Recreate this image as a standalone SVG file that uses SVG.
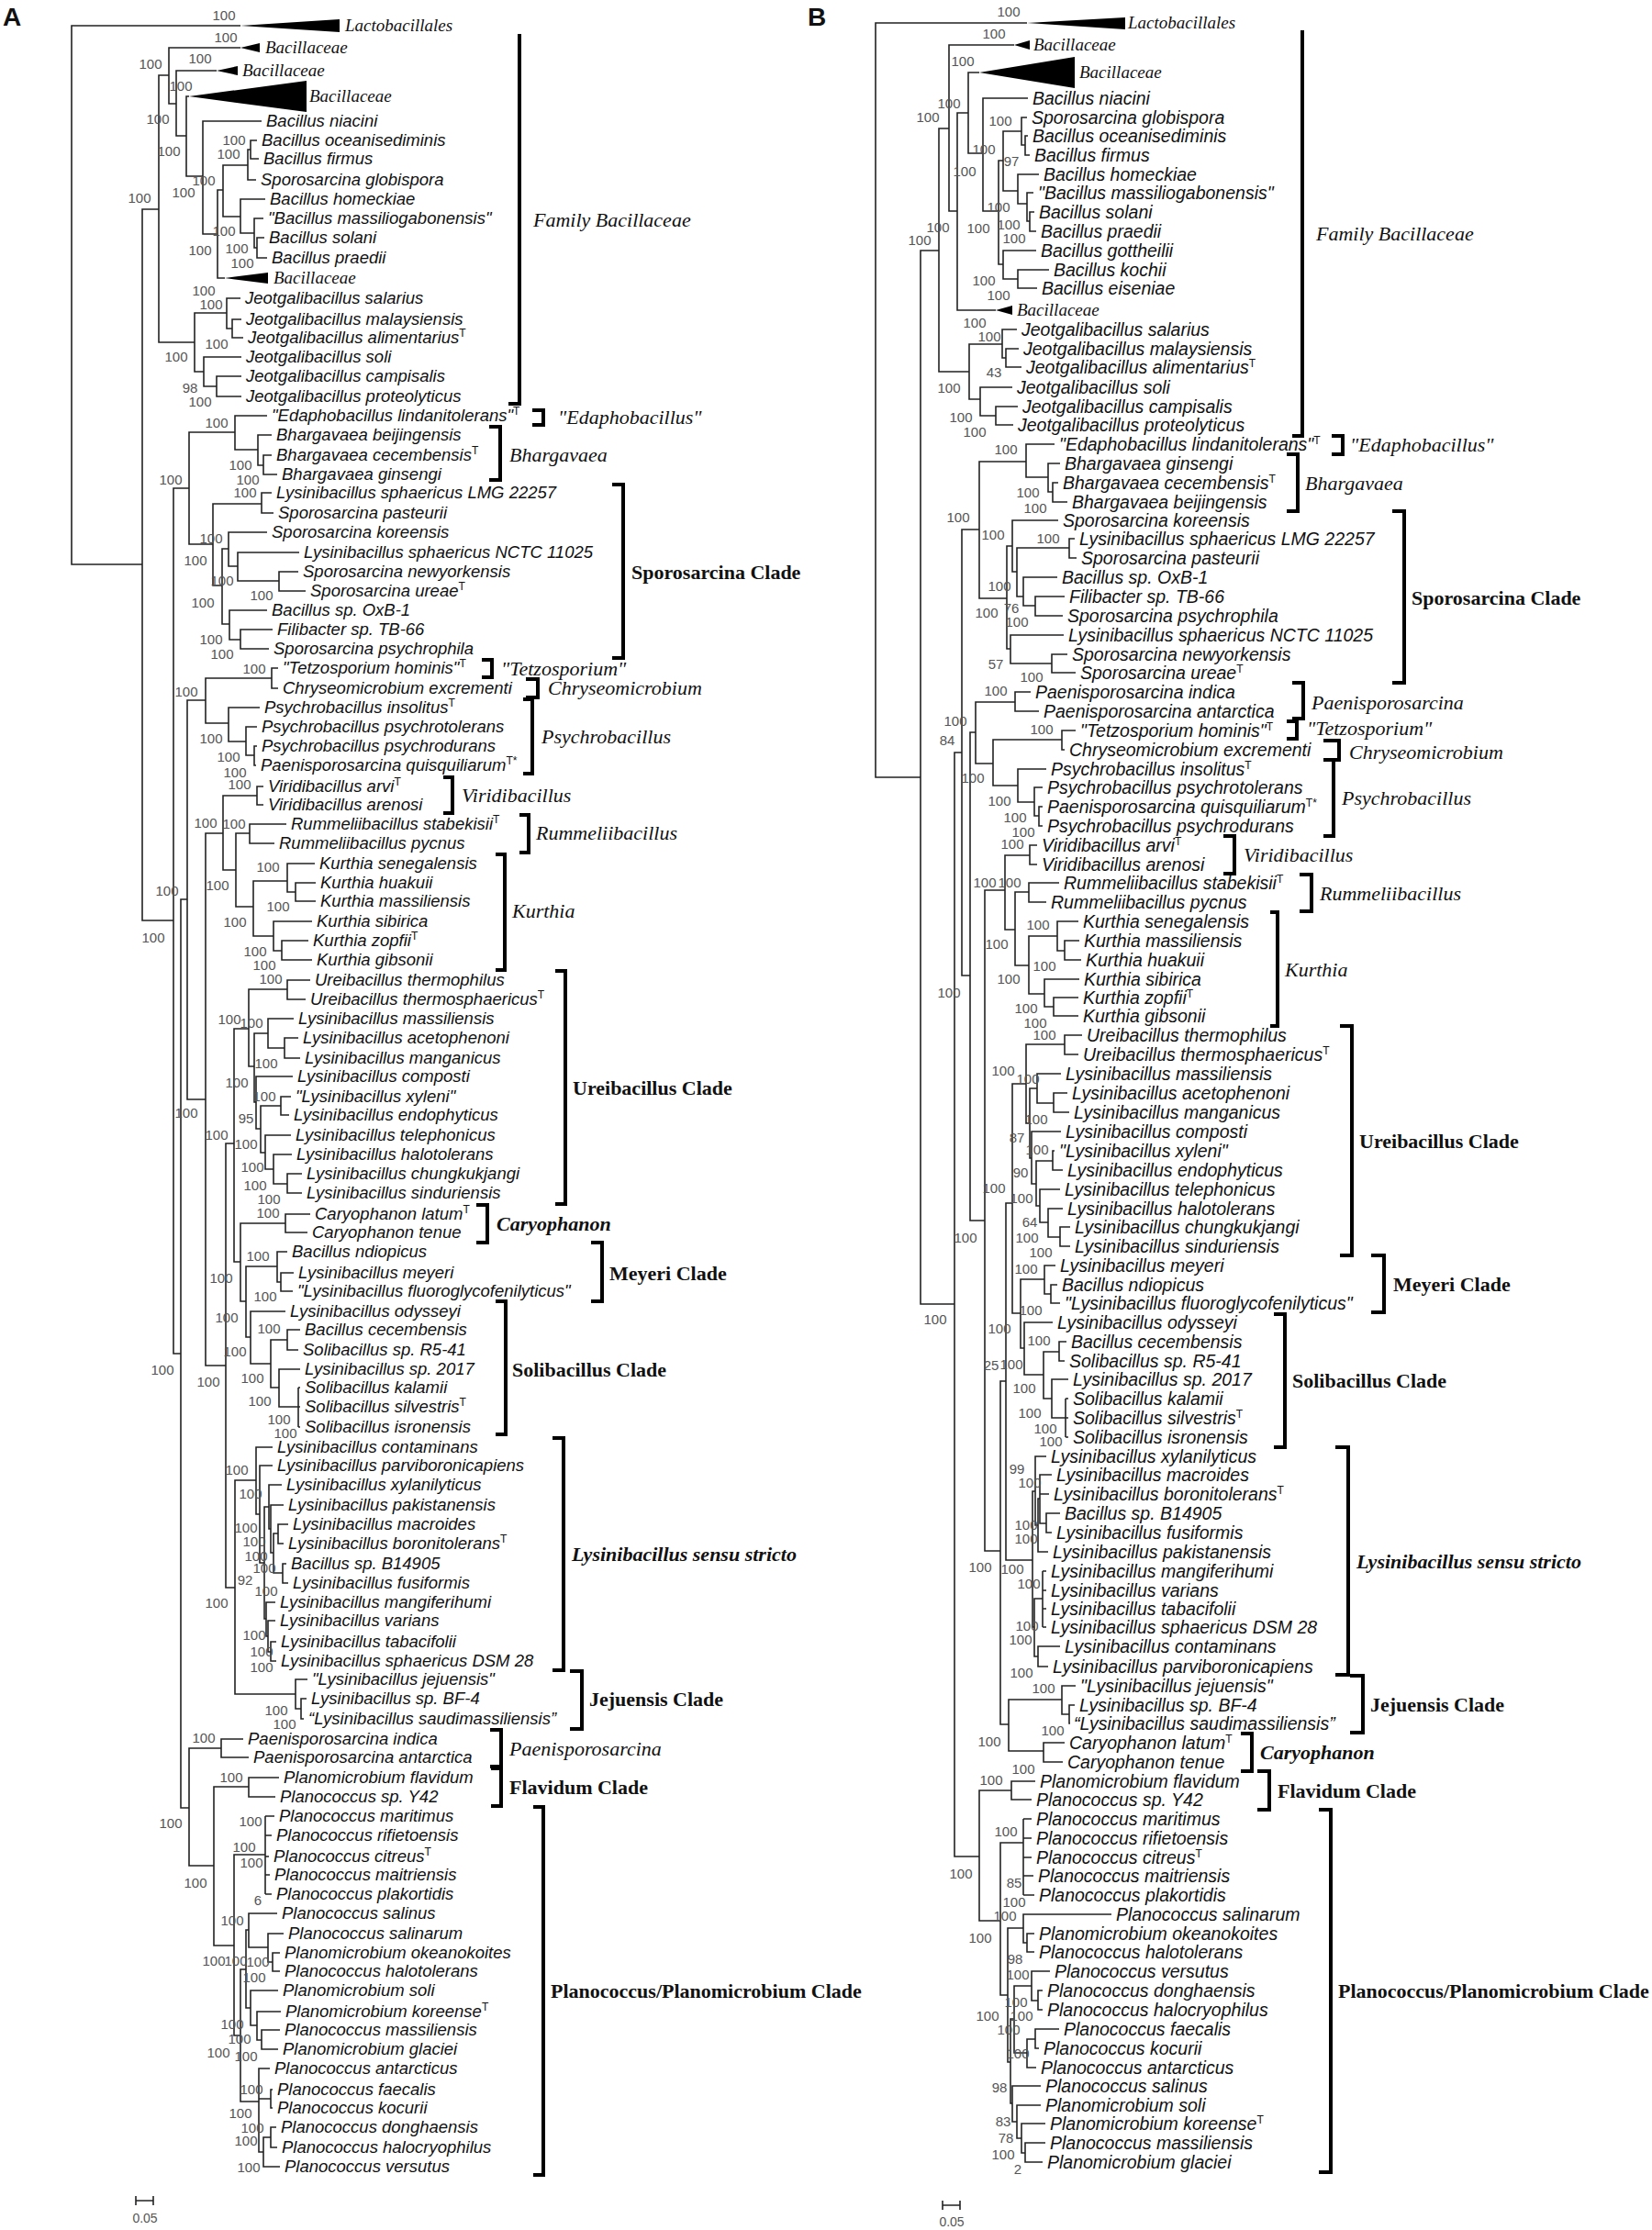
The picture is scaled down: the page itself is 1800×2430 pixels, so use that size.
<svg xmlns="http://www.w3.org/2000/svg" width="1800" height="2430" viewBox="0 0 1800 2430">
<style>
.ln{fill:none;stroke:#222;stroke-width:1.6}
.br{fill:none;stroke:#000;stroke-width:4}
.tri{fill:#000}
.la{font-family:"Liberation Sans",Arial,sans-serif;font-style:italic;font-size:18.5px;fill:#111}
.lb{font-family:"Liberation Sans",Arial,sans-serif;font-style:italic;font-size:19.5px;fill:#111}
.sup{font-size:12px;font-style:normal}
.bs{font-family:"Liberation Sans",Arial,sans-serif;font-size:15px;fill:#555;text-anchor:middle}
.grp{font-family:"Liberation Serif","Times New Roman",serif;font-style:italic;font-size:19px;fill:#111}
.ci{font-family:"Liberation Serif","Times New Roman",serif;font-style:italic;font-size:22px;fill:#111}
.cb{font-family:"Liberation Serif","Times New Roman",serif;font-weight:bold;font-size:22px;fill:#111}
.cbi{font-family:"Liberation Serif","Times New Roman",serif;font-weight:bold;font-style:italic;font-size:22px;fill:#111}
.pl{font-family:"Liberation Sans",Arial,sans-serif;font-weight:bold;font-size:28px;fill:#111}
.sc{font-family:"Liberation Sans",Arial,sans-serif;font-size:14px;fill:#555;text-anchor:middle}
</style>
<rect width="1800" height="2430" fill="#fff"/>
<text class="pl" x="3" y="28">A</text>
<text class="pl" x="880" y="28">B</text>

<!-- ===================== TREE A ===================== -->
<g id="A-connectors" class="ln">
<path d="M262,28 H78 V615 H155 M173,228 H155 V1003 H189 M184,82 H173 V373 H212 M262,52 H184 V113 H192 M236,77 H192 V148 H203 M206,105 H203 V192 H221 M285,132 H221 V255 H237 M243,207 H237 V303 H245 M270,180 H243 V236 H262 M273,163 H270 V196 H279 M280,153 H273 V173 H282 M289,217 H262 V254 H277 M287,238 H277 V270 H280 M288,259 H280 V281 H291"/>
<path d="M247,341 H212 V405 H222 M262,325 H247 V358 H253 M263,348 H253 V368 H265 M263,389 H222 V421 H236 M263,410 H236 V432 H263"/>
<path d="M206,532 H189 V1475 H197 M256,471 H206 V593 H232 M291,453 H256 V490 H281 M296,474 H281 V507 H287 M296,496 H287 V517 H302 M285,549 H232 V638 H242 M296,537 H285 V559 H298 M249,598 H242 V680 H250 M291,580 H249 V617 H259 M326,602 H259 V633 H304 M325,623 H304 V644 H333 M291,665 H250 V697 H262 M297,686 H262 V707 H293"/>
<path d="M204,980 H197 V1970 H206 M224,763 H204 V1198 H224 M296,739 H224 V788 H249 M303,728 H296 V750 H303 M283,771 H249 V808 H268 M280,792 H268 V823 H277 M280,813 H277 V834 H279"/>
<path d="M243,908 H224 V1488 H246 M280,867 H243 V948 H257 M287,857 H280 V877 H287 M272,908 H257 V988 H276 M312,898 H272 V919 H299 M313,960 H276 V1020 H298 M343,941 H313 V972 H322 M344,962 H322 V982 H344 M340,1004 H298 V1036 H307 M336,1025 H307 V1046 H340"/>
<path d="M255,1246 H246 V1730 H256 M271,1121 H255 V1375 H262 M313,1078 H271 V1162 H277 M338,1068 H313 V1089 H333 M292,1126 H277 V1201 H279 M320,1110 H292 V1142 H310 M325,1131 H310 V1153 H327 M319,1173 H279 V1230 H284 M306,1205 H284 V1256 H289 M317,1195 H306 V1215 H315 M317,1237 H289 V1274 H298 M318,1258 H298 V1290 H313 M329,1279 H313 V1300 H329"/>
<path d="M311,1333 H262 V1418 H268 M338,1323 H311 V1343 H335 M302,1380 H268 V1457 H273 M313,1364 H302 V1397 H306 M320,1387 H306 V1407 H319 M311,1429 H273 V1486 H295 M313,1460 H295 V1512 H304 M327,1449 H313 V1471 H325 M327,1492 H304 V1533 H325 M325,1512 V1555 M325,1512 H327 M325,1533 H327 M325,1555 H327"/>
<path d="M279,1613 H256 V1846 H322 M297,1577 H279 V1650 H283 M297,1597 H283 V1703 H288 M293,1642 H288 V1764 H290 M307,1618 H293 V1666 H295 M309,1640 H295 V1692 H298 M303,1671 H298 V1714 H308 M314,1661 H303 V1682 H309 M312,1704 H308 V1725 H314 M300,1746 H290 V1783 H292 M300,1766 H292 V1800 H295 M301,1789 H295 V1810 H301 M335,1830 H322 V1862 H328 M334,1851 H328 V1873 H331"/>
<path d="M241,1905 H206 V2033 H233 M265,1895 H241 V1915 H271 M271,1947 H233 V2120 H255 M304,1937 H271 V1958 H300 M289,2021 H255 V2218 H262 M289,1979 V2064 M289,1979 H299 M289,2000 H296 M289,2023 H293 M289,2043 H294 M289,2064 H296"/>
<path d="M268,2146 H262 V2290 H282 M271,2103 H268 V2188 H273 M302,2085 H271 V2122 H292 M309,2107 H292 V2138 H297 M305,2128 H297 V2148 H305 M303,2169 H273 V2207 H280 M306,2192 H280 V2223 H285 M305,2212 H285 V2233 H303 M294,2254 H282 V2345 H287 M282,2287 H295 M297,2277 H295 V2297 H297 M295,2329 H287 V2361 H305 M301,2318 H295 V2340 H302"/>
<path d="M148,2398 H167 M148,2393 V2403 M167,2393 V2403"/>
</g>
<g id="A-collapsed" class="tri">
<polygon points="262,28 370,21 370,35"/>
<polygon points="262,52 283,47 283,57"/>
<polygon points="236,77 259,72 259,82"/>
<polygon points="206,105 334,88 334,122"/>
<polygon points="245,303 292,297 292,309"/>
</g>
<text class="sc" x="158" y="2422">0.05</text>

<g id="A-leaves" class="la">
<text class="grp" x="376" y="34">Lactobacillales</text>
<text class="grp" x="289" y="58">Bacillaceae</text>
<text class="grp" x="264" y="83">Bacillaceae</text>
<text class="grp" x="337" y="111">Bacillaceae</text>
<text x="290" y="138">Bacillus niacini</text>
<text x="285" y="159">Bacillus oceanisediminis</text>
<text x="287" y="179">Bacillus firmus</text>
<text x="284" y="202">Sporosarcina globispora</text>
<text x="294" y="223">Bacillus homeckiae</text>
<text x="292" y="244">"Bacillus massiliogabonensis"</text>
<text x="293" y="265">Bacillus solani</text>
<text x="296" y="287">Bacillus praedii</text>
<text class="grp" x="298" y="309">Bacillaceae</text>
<text x="267" y="331">Jeotgalibacillus salarius</text>
<text x="268" y="354">Jeotgalibacillus malaysiensis</text>
<text x="270" y="374">Jeotgalibacillus alimentarius<tspan class="sup" dy="-7">T</tspan></text>
<text x="268" y="395">Jeotgalibacillus soli</text>
<text x="268" y="416">Jeotgalibacillus campisalis</text>
<text x="268" y="438">Jeotgalibacillus proteolyticus</text>
<text x="296" y="459">"Edaphobacillus lindanitolerans"<tspan class="sup" dy="-7">T</tspan></text>
<text x="301" y="480">Bhargavaea beijingensis</text>
<text x="301" y="502">Bhargavaea cecembensis<tspan class="sup" dy="-7">T</tspan></text>
<text x="307" y="523">Bhargavaea ginsengi</text>
<text x="301" y="543">Lysinibacillus sphaericus LMG 22257</text>
<text x="303" y="565">Sporosarcina pasteurii</text>
<text x="296" y="586">Sporosarcina koreensis</text>
<text x="331" y="608">Lysinibacillus sphaericus NCTC 11025</text>
<text x="330" y="629">Sporosarcina newyorkensis</text>
<text x="338" y="650">Sporosarcina ureae<tspan class="sup" dy="-7">T</tspan></text>
<text x="296" y="671">Bacillus sp. OxB-1</text>
<text x="302" y="692">Filibacter sp. TB-66</text>
<text x="298" y="713">Sporosarcina psychrophila</text>
<text x="308" y="734">"Tetzosporium hominis"<tspan class="sup" dy="-7">T</tspan></text>
<text x="308" y="756">Chryseomicrobium excrementi</text>
<text x="288" y="777">Psychrobacillus insolitus<tspan class="sup" dy="-7">T</tspan></text>
<text x="285" y="798">Psychrobacillus psychrotolerans</text>
<text x="285" y="819">Psychrobacillus psychrodurans</text>
<text x="284" y="840">Paenisporosarcina quisquiliarum<tspan class="sup" dy="-7">T*</tspan></text>
<text x="292" y="863">Viridibacillus arvi<tspan class="sup" dy="-7">T</tspan></text>
<text x="292" y="883">Viridibacillus arenosi</text>
<text x="317" y="904">Rummeliibacillus stabekisii<tspan class="sup" dy="-7">T</tspan></text>
<text x="304" y="925">Rummeliibacillus pycnus</text>
<text x="348" y="947">Kurthia senegalensis</text>
<text x="349" y="968">Kurthia huakuii</text>
<text x="349" y="988">Kurthia massiliensis</text>
<text x="345" y="1010">Kurthia sibirica</text>
<text x="341" y="1031">Kurthia zopfii<tspan class="sup" dy="-7">T</tspan></text>
<text x="345" y="1052">Kurthia gibsonii</text>
<text x="343" y="1074">Ureibacillus thermophilus</text>
<text x="338" y="1095">Ureibacillus thermosphaericus<tspan class="sup" dy="-7">T</tspan></text>
<text x="325" y="1116">Lysinibacillus massiliensis</text>
<text x="330" y="1137">Lysinibacillus acetophenoni</text>
<text x="332" y="1159">Lysinibacillus manganicus</text>
<text x="324" y="1179">Lysinibacillus composti</text>
<text x="322" y="1201">"Lysinibacillus xyleni"</text>
<text x="320" y="1221">Lysinibacillus endophyticus</text>
<text x="322" y="1243">Lysinibacillus telephonicus</text>
<text x="323" y="1264">Lysinibacillus halotolerans</text>
<text x="334" y="1285">Lysinibacillus chungkukjangi</text>
<text x="334" y="1306">Lysinibacillus sinduriensis</text>
<text x="343" y="1329">Caryophanon latum<tspan class="sup" dy="-7">T</tspan></text>
<text x="340" y="1349">Caryophanon tenue</text>
<text x="318" y="1370">Bacillus ndiopicus</text>
<text x="325" y="1393">Lysinibacillus meyeri</text>
<text x="324" y="1413">"Lysinibacillus fluoroglycofenilyticus"</text>
<text x="316" y="1435">Lysinibacillus odysseyi</text>
<text x="332" y="1455">Bacillus cecembensis</text>
<text x="330" y="1477">Solibacillus sp. R5-41</text>
<text x="332" y="1498">Lysinibacillus sp. 2017</text>
<text x="332" y="1518">Solibacillus kalamii</text>
<text x="332" y="1539">Solibacillus silvestris<tspan class="sup" dy="-7">T</tspan></text>
<text x="332" y="1561">Solibacillus isronensis</text>
<text x="302" y="1583">Lysinibacillus contaminans</text>
<text x="302" y="1603">Lysinibacillus parviboronicapiens</text>
<text x="312" y="1624">Lysinibacillus xylanilyticus</text>
<text x="314" y="1646">Lysinibacillus pakistanensis</text>
<text x="319" y="1667">Lysinibacillus macroides</text>
<text x="314" y="1688">Lysinibacillus boronitolerans<tspan class="sup" dy="-7">T</tspan></text>
<text x="317" y="1710">Bacillus sp. B14905</text>
<text x="319" y="1731">Lysinibacillus fusiformis</text>
<text x="305" y="1752">Lysinibacillus mangiferihumi</text>
<text x="305" y="1772">Lysinibacillus varians</text>
<text x="306" y="1795">Lysinibacillus tabacifolii</text>
<text x="306" y="1816">Lysinibacillus sphaericus DSM 28</text>
<text x="340" y="1836">"Lysinibacillus jejuensis"</text>
<text x="339" y="1857">Lysinibacillus sp. BF-4</text>
<text x="336" y="1879">“Lysinibacillus saudimassiliensis”</text>
<text x="270" y="1901">Paenisporosarcina indica</text>
<text x="276" y="1921">Paenisporosarcina antarctica</text>
<text x="309" y="1943">Planomicrobium flavidum</text>
<text x="305" y="1964">Planococcus sp. Y42</text>
<text x="304" y="1985">Planococcus maritimus</text>
<text x="301" y="2006">Planococcus rifietoensis</text>
<text x="298" y="2029">Planococcus citreus<tspan class="sup" dy="-7">T</tspan></text>
<text x="299" y="2049">Planococcus maitriensis</text>
<text x="301" y="2070">Planococcus plakortidis</text>
<text x="307" y="2091">Planococcus salinus</text>
<text x="314" y="2113">Planococcus salinarum</text>
<text x="310" y="2134">Planomicrobium okeanokoites</text>
<text x="310" y="2154">Planococcus halotolerans</text>
<text x="308" y="2175">Planomicrobium soli</text>
<text x="311" y="2198">Planomicrobium koreense<tspan class="sup" dy="-7">T</tspan></text>
<text x="310" y="2218">Planococcus massiliensis</text>
<text x="308" y="2239">Planomicrobium glaciei</text>
<text x="299" y="2260">Planococcus antarcticus</text>
<text x="302" y="2283">Planococcus faecalis</text>
<text x="302" y="2303">Planococcus kocurii</text>
<text x="306" y="2324">Planococcus donghaensis</text>
<text x="307" y="2346">Planococcus halocryophilus</text>
<text x="310" y="2367">Planococcus versutus</text>
</g>

<g id="A-support" class="bs">
<text x="244" y="22">100</text><text x="246" y="46">100</text><text x="164" y="75">100</text><text x="218" y="69">100</text><text x="197" y="99">100</text><text x="172" y="135">100</text><text x="255" y="158">100</text><text x="249" y="173">100</text><text x="184" y="170">100</text><text x="222" y="202">100</text><text x="200" y="215">100</text><text x="152" y="221">100</text><text x="244" y="257">100</text><text x="218" y="278">100</text><text x="258" y="276">100</text><text x="264" y="292">100</text><text x="222" y="322">100</text><text x="230" y="337">100</text><text x="236" y="380">100</text><text x="192" y="394">100</text>
<text x="207" y="428">98</text><text x="218" y="443">100</text><text x="236" y="466">100</text><text x="262" y="512">100</text><text x="270" y="528">100</text><text x="186" y="528">100</text><text x="267" y="542">100</text><text x="230" y="592">100</text><text x="213" y="616">100</text><text x="242" y="638">100</text><text x="285" y="654">100</text><text x="221" y="662">100</text><text x="230" y="702">100</text><text x="242" y="718">100</text><text x="277" y="734">100</text><text x="203" y="759">100</text><text x="230" y="810">100</text>
<text x="249" y="830">100</text><text x="256" y="847">100</text><text x="261" y="860">100</text><text x="224" y="902">100</text><text x="255" y="903">100</text><text x="237" y="970">100</text><text x="182" y="976">100</text><text x="292" y="950">100</text><text x="303" y="993">100</text><text x="256" y="1010">100</text><text x="167" y="1027">100</text><text x="278" y="1042">100</text><text x="288" y="1057">100</text><text x="295" y="1072">100</text><text x="250" y="1116">100</text><text x="274" y="1120">100</text><text x="290" y="1164">100</text><text x="258" y="1185">100</text><text x="288" y="1200">100</text>
<text x="203" y="1218">100</text><text x="268" y="1224">95</text><text x="236" y="1242">100</text><text x="268" y="1252">100</text><text x="275" y="1277">100</text><text x="278" y="1297">100</text><text x="293" y="1312">100</text><text x="292" y="1327">100</text><text x="281" y="1374">100</text><text x="241" y="1398">100</text><text x="289" y="1418">100</text><text x="247" y="1441">100</text><text x="293" y="1453">100</text><text x="256" y="1478">100</text><text x="177" y="1498">100</text><text x="227" y="1511">100</text><text x="275" y="1507">100</text><text x="283" y="1532">100</text><text x="304" y="1552">100</text><text x="311" y="1567">100</text><text x="258" y="1607">100</text>
<text x="273" y="1633">100</text><text x="268" y="1670">100</text><text x="277" y="1685">100</text><text x="279" y="1701">100</text><text x="267" y="1727">92</text><text x="288" y="1714">100</text><text x="290" y="1739">100</text><text x="236" y="1752">100</text><text x="277" y="1787">100</text><text x="285" y="1805">100</text><text x="285" y="1822">100</text><text x="301" y="1869">100</text><text x="310" y="1884">100</text><text x="222" y="1899">100</text><text x="252" y="1942">100</text><text x="186" y="1992">100</text><text x="273" y="1990">100</text>
<text x="266" y="2018">100</text><text x="274" y="2035">100</text><text x="213" y="2057">100</text><text x="281" y="2076">6</text><text x="253" y="2098">100</text><text x="233" y="2142">100</text><text x="257" y="2142">100</text><text x="281" y="2143">100</text><text x="277" y="2160">100</text><text x="253" y="2211">100</text><text x="261" y="2227">100</text><text x="238" y="2242">100</text><text x="268" y="2246">100</text><text x="274" y="2282">100</text><text x="262" y="2308">100</text><text x="275" y="2324">100</text><text x="268" y="2338">100</text><text x="271" y="2367">100</text>
</g>

<g id="A-clades">
<g id="A-bacillaceae"><path class="br" d="M566,37 V440 H554"/><text class="ci" x="581" y="247">Family Bacillaceae</text></g>
<g id="A-edaphobacillus"><path class="br" d="M580,447 H592 V463 H580"/><text class="ci" x="608" y="462">"Edaphobacillus"</text></g>
<g id="A-bhargavaea"><path class="br" d="M533,465 H545 V523 H533"/><text class="ci" x="555" y="503">Bhargavaea</text></g>
<g id="A-sporosarcina"><path class="br" d="M667,528 H679 V717 H667"/><text class="cb" x="688" y="631">Sporosarcina Clade</text></g>
<g id="A-tetzosporium"><path class="br" d="M525,719 H536 V738 H525"/><text class="ci" x="546" y="736">"Tetzosporium"</text></g>
<g id="A-chryseomicrobium"><path class="br" d="M573,740 H586 V760 H573"/><text class="ci" x="597" y="757">Chryseomicrobium</text></g>
<g id="A-psychrobacillus"><path class="br" d="M570,762 H580 V843 H570"/><text class="ci" x="590" y="810">Psychrobacillus</text></g>
<g id="A-viridibacillus"><path class="br" d="M483,847 H493 V886 H483"/><text class="ci" x="503" y="874">Viridibacillus</text></g>
<g id="A-rummeliibacillus"><path class="br" d="M566,888 H576 V929 H566"/><text class="ci" x="584" y="915">Rummeliibacillus</text></g>
<g id="A-kurthia"><path class="br" d="M540,931 H550 V1057 H540"/><text class="ci" x="558" y="1000">Kurthia</text></g>
<g id="A-ureibacillus"><path class="br" d="M605,1058 H616 V1312 H605"/><text class="cb" x="624" y="1193">Ureibacillus Clade</text></g>
<g id="A-caryophanon"><path class="br" d="M519,1313 H531 V1354 H519"/><text class="cbi" x="541" y="1341">Caryophanon</text></g>
<g id="A-meyeri"><path class="br" d="M644,1354 H656 V1418 H644"/><text class="cb" x="664" y="1395">Meyeri Clade</text></g>
<g id="A-solibacillus"><path class="br" d="M540,1418 H551 V1563 H540"/><text class="cb" x="558" y="1500">Solibacillus Clade</text></g>
<g id="A-lysinibacillus"><path class="br" d="M602,1567 H614 V1820 H602"/><text class="cbi" x="623" y="1701">Lysinibacillus sensu stricto</text></g>
<g id="A-jejuensis"><path class="br" d="M621,1821 H634 V1884 H621"/><text class="cb" x="642" y="1859">Jejuensis Clade</text></g>
<g id="A-paenisporosarcina"><path class="br" d="M534,1885 H546 V1925 H534"/><text class="ci" x="555" y="1913">Paenisporosarcina</text></g>
<g id="A-flavidum"><path class="br" d="M535,1927 H546 V1968 H535"/><text class="cb" x="555" y="1955">Flavidum Clade</text></g>
<g id="A-planococcus"><path class="br" d="M581,1969 H592 V2370 H581"/><text class="cb" x="600" y="2177">Planococcus/Planomicrobium Clade</text></g>
</g>

<!-- ===================== TREE B ===================== -->
<g id="B-connectors" class="ln">
<path d="M1119,25 H954 V847 H1003 M1023,273 H1003 V1421 H1040 M1034,140 H1023 V405 H1056 M1105,49 H1034 V230 H1043 M1055,123 H1043 V338 H1085 M1067,79 H1055 V167 H1071 M1120,107 H1071 V230 H1088 M1093,175 H1088 V288 H1093 M1113,143 H1093 V208 H1109 M1119,128 H1113 V158 H1117 M1120,148 H1117 V169 H1122 M1132,190 H1109 V222 H1119 M1126,210 H1119 V241 H1122 M1127,231 H1122 V252 H1129 M1129,273 H1093 V304 H1109 M1143,294 H1109 V314 H1130"/>
<path d="M1092,375 H1056 V435 H1068 M1108,359 H1092 V390 H1096 M1110,380 H1096 V400 H1113 M1103,422 H1068 V453 H1085 M1109,443 H1085 V463 H1104"/>
<path d="M1048,820 H1040 V2023 H1067 M1067,577 H1048 V1063 H1057 M1118,503 H1067 V652 H1097 M1149,484 H1118 V520 H1142 M1155,505 H1142 V536 H1147 M1153,526 H1147 V547 H1163 M1103,595 H1097 V707 H1101 M1153,567 H1103 V623 H1108 M1165,597 H1108 V650 H1115 M1171,587 H1165 V608 H1173 M1152,629 H1115 V660 H1128 M1160,650 H1128 V671 H1158 M1159,692 H1101 V723 H1146 M1163,713 H1146 V733 H1172"/>
<path d="M1063,798 H1057 V1330 H1073 M1106,765 H1063 V832 H1082 M1123,754 H1106 V775 H1132 M1157,806 H1082 V856 H1109 M1172,796 H1157 V817 H1160 M1140,838 H1109 V874 H1127 M1136,858 H1127 V889 H1132 M1136,879 H1132 V900 H1136"/>
<path d="M1095,970 H1073 V1690 H1090 M1122,932 H1095 V1013 H1106 M1130,921 H1122 V942 H1130 M1121,972 H1106 V1052 H1121 M1154,962 H1121 V983 H1140 M1152,1020 H1121 V1083 H1138 M1175,1004 H1152 V1036 H1160 M1176,1025 H1160 V1046 H1178 M1176,1067 H1138 V1097 H1148 M1175,1087 H1148 V1107 H1175"/>
<path d="M1096,1505 H1090 V1879 H1099 M1103,1311 H1096 V1700 H1125 M1118,1181 H1103 V1431 H1112 M1160,1138 H1118 V1224 H1122 M1179,1128 H1160 V1149 H1175 M1130,1186 H1122 V1262 H1124 M1156,1170 H1130 V1202 H1148 M1163,1191 H1148 V1212 H1165 M1156,1233 H1124 V1290 H1129 M1147,1265 H1129 V1314 H1133 M1149,1254 H1147 V1275 H1158 M1155,1296 H1133 V1332 H1142 M1158,1317 H1142 V1348 H1155 M1166,1337 H1155 V1358 H1166"/>
<path d="M1138,1394 H1112 V1469 H1116 M1150,1379 H1138 V1410 H1145 M1152,1400 H1145 V1420 H1155 M1147,1441 H1116 V1498 H1137 M1154,1473 H1137 V1524 H1146 M1162,1462 H1154 V1483 H1160 M1164,1503 H1146 V1545 H1161 M1161,1524 V1566 M1161,1524 H1164 M1161,1545 H1164 M1161,1566 H1164"/>
<path d="M1128,1625 H1125 V1773 H1127 M1140,1587 H1128 V1662 H1131 M1133,1633 H1131 V1691 H1142 M1146,1607 H1133 V1660 H1140 M1133,1628 H1143 M1155,1649 H1140 V1670 H1146 M1136,1742 H1127 V1805 H1131 M1136,1712 V1773 M1136,1712 H1140 M1136,1733 H1140 M1136,1753 H1140 M1136,1773 H1140 M1155,1794 H1131 V1816 H1142"/>
<path d="M1157,1852 H1099 V1908 H1137 M1172,1837 H1157 V1868 H1165 M1171,1858 H1165 V1878 H1166 M1160,1899 H1137 V1920 H1158"/>
<path d="M1102,1951 H1067 V2093 H1090 M1128,1941 H1102 V1961 H1124 M1115,2008 H1090 V2174 H1098 M1115,1982 V2065 M1115,1982 H1124 M1115,2003 H1124 M1115,2024 H1124 M1115,2044 H1126 M1115,2065 H1127 M1115,2101 H1098 V2247 H1101 M1211,2086 H1115 V2117 H1119 M1127,2107 H1119 V2127 H1127"/>
<path d="M1105,2200 H1101 V2292 H1103 M1124,2164 H1105 V2237 H1119 M1144,2148 H1124 V2180 H1131 M1136,2169 H1131 V2190 H1136 M1128,2222 H1119 V2253 H1129 M1154,2211 H1128 V2232 H1132 M1134,2273 H1103 V2312 H1108 M1134,2294 H1108 V2330 H1113 M1139,2314 H1113 V2346 H1117 M1139,2335 H1117 V2356 H1136"/>
<path d="M1027,2403 H1046 M1027,2398 V2408 M1046,2398 V2408"/>
</g>
<g id="B-collapsed" class="tri">
<polygon points="1119,25 1226,19 1226,32"/>
<polygon points="1105,49 1122,44 1122,54"/>
<polygon points="1067,79 1171,62 1171,96"/>
<polygon points="1085,338 1103,333 1103,343"/>
</g>
<text class="sc" x="1037" y="2426">0.05</text>

<g id="B-leaves" class="lb">
<text class="grp" x="1229" y="31">Lactobacillales</text>
<text class="grp" x="1126" y="55">Bacillaceae</text>
<text class="grp" x="1176" y="85">Bacillaceae</text>
<text x="1125" y="114">Bacillus niacini</text>
<text x="1124" y="135">Sporosarcina globispora</text>
<text x="1125" y="155">Bacillus oceanisediminis</text>
<text x="1127" y="176">Bacillus firmus</text>
<text x="1137" y="197">Bacillus homeckiae</text>
<text x="1131" y="217">"Bacillus massiliogabonensis"</text>
<text x="1132" y="238">Bacillus solani</text>
<text x="1134" y="259">Bacillus praedii</text>
<text x="1134" y="280">Bacillus gottheilii</text>
<text x="1148" y="301">Bacillus kochii</text>
<text x="1135" y="321">Bacillus eiseniae</text>
<text class="grp" x="1108" y="344">Bacillaceae</text>
<text x="1113" y="366">Jeotgalibacillus salarius</text>
<text x="1115" y="387">Jeotgalibacillus malaysiensis</text>
<text x="1118" y="407">Jeotgalibacillus alimentarius<tspan class="sup" dy="-7">T</tspan></text>
<text x="1108" y="429">Jeotgalibacillus soli</text>
<text x="1114" y="450">Jeotgalibacillus campisalis</text>
<text x="1109" y="470">Jeotgalibacillus proteolyticus</text>
<text x="1154" y="491">"Edaphobacillus lindanitolerans"<tspan class="sup" dy="-7">T</tspan></text>
<text x="1160" y="512">Bhargavaea ginsengi</text>
<text x="1158" y="533">Bhargavaea cecembensis<tspan class="sup" dy="-7">T</tspan></text>
<text x="1168" y="554">Bhargavaea beijingensis</text>
<text x="1158" y="574">Sporosarcina koreensis</text>
<text x="1176" y="594">Lysinibacillus sphaericus LMG 22257</text>
<text x="1178" y="615">Sporosarcina pasteurii</text>
<text x="1157" y="636">Bacillus sp. OxB-1</text>
<text x="1165" y="657">Filibacter sp. TB-66</text>
<text x="1163" y="678">Sporosarcina psychrophila</text>
<text x="1164" y="699">Lysinibacillus sphaericus NCTC 11025</text>
<text x="1168" y="720">Sporosarcina newyorkensis</text>
<text x="1177" y="740">Sporosarcina ureae<tspan class="sup" dy="-7">T</tspan></text>
<text x="1128" y="761">Paenisporosarcina indica</text>
<text x="1137" y="782">Paenisporosarcina antarctica</text>
<text x="1177" y="803">"Tetzosporium hominis"<tspan class="sup" dy="-7">T</tspan></text>
<text x="1165" y="824">Chryseomicrobium excrementi</text>
<text x="1145" y="845">Psychrobacillus insolitus<tspan class="sup" dy="-7">T</tspan></text>
<text x="1141" y="865">Psychrobacillus psychrotolerans</text>
<text x="1141" y="886">Paenisporosarcina quisquiliarum<tspan class="sup" dy="-7">T*</tspan></text>
<text x="1141" y="907">Psychrobacillus psychrodurans</text>
<text x="1135" y="928">Viridibacillus arvi<tspan class="sup" dy="-7">T</tspan></text>
<text x="1135" y="949">Viridibacillus arenosi</text>
<text x="1159" y="969">Rummeliibacillus stabekisii<tspan class="sup" dy="-7">T</tspan></text>
<text x="1145" y="990">Rummeliibacillus pycnus</text>
<text x="1180" y="1011">Kurthia senegalensis</text>
<text x="1181" y="1032">Kurthia massiliensis</text>
<text x="1183" y="1053">Kurthia huakuii</text>
<text x="1181" y="1074">Kurthia sibirica</text>
<text x="1180" y="1094">Kurthia zopfii<tspan class="sup" dy="-7">T</tspan></text>
<text x="1180" y="1114">Kurthia gibsonii</text>
<text x="1184" y="1135">Ureibacillus thermophilus</text>
<text x="1180" y="1156">Ureibacillus thermosphaericus<tspan class="sup" dy="-7">T</tspan></text>
<text x="1161" y="1177">Lysinibacillus massiliensis</text>
<text x="1168" y="1198">Lysinibacillus acetophenoni</text>
<text x="1170" y="1219">Lysinibacillus manganicus</text>
<text x="1161" y="1240">Lysinibacillus composti</text>
<text x="1154" y="1261">"Lysinibacillus xyleni"</text>
<text x="1163" y="1282">Lysinibacillus endophyticus</text>
<text x="1160" y="1303">Lysinibacillus telephonicus</text>
<text x="1163" y="1324">Lysinibacillus halotolerans</text>
<text x="1171" y="1344">Lysinibacillus chungkukjangi</text>
<text x="1171" y="1365">Lysinibacillus sinduriensis</text>
<text x="1155" y="1386">Lysinibacillus meyeri</text>
<text x="1157" y="1407">Bacillus ndiopicus</text>
<text x="1160" y="1427">"Lysinibacillus fluoroglycofenilyticus"</text>
<text x="1152" y="1448">Lysinibacillus odysseyi</text>
<text x="1167" y="1469">Bacillus cecembensis</text>
<text x="1165" y="1490">Solibacillus sp. R5-41</text>
<text x="1169" y="1510">Lysinibacillus sp. 2017</text>
<text x="1169" y="1531">Solibacillus kalamii</text>
<text x="1169" y="1552">Solibacillus silvestris<tspan class="sup" dy="-7">T</tspan></text>
<text x="1169" y="1573">Solibacillus isronensis</text>
<text x="1145" y="1594">Lysinibacillus xylanilyticus</text>
<text x="1151" y="1614">Lysinibacillus macroides</text>
<text x="1148" y="1635">Lysinibacillus boronitolerans<tspan class="sup" dy="-7">T</tspan></text>
<text x="1160" y="1656">Bacillus sp. B14905</text>
<text x="1151" y="1677">Lysinibacillus fusiformis</text>
<text x="1147" y="1698">Lysinibacillus pakistanensis</text>
<text x="1145" y="1719">Lysinibacillus mangiferihumi</text>
<text x="1145" y="1740">Lysinibacillus varians</text>
<text x="1145" y="1760">Lysinibacillus tabacifolii</text>
<text x="1145" y="1780">Lysinibacillus sphaericus DSM 28</text>
<text x="1160" y="1801">Lysinibacillus contaminans</text>
<text x="1147" y="1823">Lysinibacillus parviboronicapiens</text>
<text x="1177" y="1844">"Lysinibacillus jejuensis"</text>
<text x="1176" y="1865">Lysinibacillus sp. BF-4</text>
<text x="1170" y="1885">“Lysinibacillus saudimassiliensis”</text>
<text x="1165" y="1906">Caryophanon latum<tspan class="sup" dy="-7">T</tspan></text>
<text x="1163" y="1927">Caryophanon tenue</text>
<text x="1133" y="1948">Planomicrobium flavidum</text>
<text x="1129" y="1968">Planococcus sp. Y42</text>
<text x="1129" y="1989">Planococcus maritimus</text>
<text x="1129" y="2010">Planococcus rifietoensis</text>
<text x="1129" y="2031">Planococcus citreus<tspan class="sup" dy="-7">T</tspan></text>
<text x="1131" y="2051">Planococcus maitriensis</text>
<text x="1132" y="2072">Planococcus plakortidis</text>
<text x="1216" y="2093">Planococcus salinarum</text>
<text x="1132" y="2114">Planomicrobium okeanokoites</text>
<text x="1132" y="2134">Planococcus halotolerans</text>
<text x="1149" y="2155">Planococcus versutus</text>
<text x="1141" y="2176">Planococcus donghaensis</text>
<text x="1141" y="2197">Planococcus halocryophilus</text>
<text x="1159" y="2218">Planococcus faecalis</text>
<text x="1137" y="2239">Planococcus kocurii</text>
<text x="1134" y="2260">Planococcus antarcticus</text>
<text x="1139" y="2280">Planococcus salinus</text>
<text x="1139" y="2301">Planomicrobium soli</text>
<text x="1144" y="2321">Planomicrobium koreense<tspan class="sup" dy="-7">T</tspan></text>
<text x="1144" y="2342">Planococcus massiliensis</text>
<text x="1141" y="2363">Planomicrobium glaciei</text>
</g>

<g id="B-support" class="bs">
<text x="1099" y="18">100</text><text x="1083" y="42">100</text><text x="1049" y="72">100</text><text x="1034" y="118">100</text><text x="1011" y="133">100</text><text x="1090" y="137">100</text><text x="1072" y="168">100</text><text x="1102" y="181">97</text><text x="1051" y="192">100</text><text x="1088" y="231">100</text><text x="1022" y="253">100</text><text x="1002" y="267">100</text><text x="1066" y="254">100</text><text x="1099" y="250">100</text><text x="1105" y="265">100</text><text x="1072" y="311">100</text><text x="1088" y="327">100</text><text x="1062" y="357">100</text><text x="1078" y="372">100</text><text x="1083" y="411">43</text>
<text x="1034" y="428">100</text><text x="1047" y="460">100</text><text x="1062" y="476">100</text><text x="1096" y="495">100</text><text x="1120" y="542">100</text><text x="1128" y="559">100</text><text x="1044" y="569">100</text><text x="1082" y="588">100</text><text x="1142" y="592">100</text><text x="1089" y="644">100</text><text x="1075" y="673">100</text><text x="1102" y="668">76</text><text x="1108" y="683">100</text><text x="1085" y="729">57</text><text x="1124" y="743">100</text><text x="1085" y="758">100</text><text x="1041" y="791">100</text><text x="1135" y="800">100</text><text x="1032" y="812">84</text>
<text x="1060" y="853">100</text><text x="1089" y="878">100</text><text x="1106" y="896">100</text><text x="1115" y="912">100</text><text x="1103" y="925">100</text><text x="1073" y="967">100</text><text x="1100" y="967">100</text><text x="1086" y="1034">100</text><text x="1131" y="1013">100</text><text x="1138" y="1058">100</text><text x="1099" y="1072">100</text><text x="1118" y="1104">100</text><text x="1128" y="1120">100</text><text x="1034" y="1087">100</text><text x="1138" y="1133">100</text><text x="1093" y="1172">100</text><text x="1120" y="1181">100</text>
<text x="1129" y="1225">100</text><text x="1108" y="1245">87</text><text x="1130" y="1258">100</text><text x="1112" y="1283">90</text><text x="1083" y="1300">100</text><text x="1113" y="1311">100</text><text x="1122" y="1337">64</text><text x="1052" y="1354">100</text><text x="1119" y="1354">100</text><text x="1134" y="1370">100</text><text x="1118" y="1388">100</text><text x="1123" y="1433">100</text><text x="1019" y="1443">100</text><text x="1089" y="1453">100</text><text x="1132" y="1466">100</text><text x="1080" y="1493">25</text><text x="1102" y="1492">100</text><text x="1116" y="1518">100</text><text x="1122" y="1545">100</text><text x="1139" y="1562">100</text><text x="1145" y="1576">100</text><text x="1108" y="1606">99</text>
<text x="1122" y="1621">100</text><text x="1118" y="1667">100</text><text x="1118" y="1682">100</text><text x="1068" y="1713">100</text><text x="1103" y="1715">100</text><text x="1121" y="1731">100</text><text x="1119" y="1777">100</text><text x="1112" y="1792">100</text><text x="1113" y="1828">100</text><text x="1137" y="1845">100</text><text x="1147" y="1891">100</text><text x="1078" y="1903">100</text><text x="1115" y="1933">100</text><text x="1080" y="1945">100</text><text x="1096" y="2001">100</text>
<text x="1047" y="2047">100</text><text x="1105" y="2057">85</text><text x="1105" y="2078">100</text><text x="1095" y="2093">100</text><text x="1068" y="2117">100</text><text x="1106" y="2140">98</text><text x="1109" y="2157">100</text><text x="1107" y="2187">100</text><text x="1076" y="2202">100</text><text x="1113" y="2202">100</text><text x="1099" y="2217">100</text><text x="1109" y="2243">100</text><text x="1089" y="2280">98</text><text x="1093" y="2317">83</text><text x="1096" y="2335">78</text><text x="1093" y="2353">100</text><text x="1109" y="2369">2</text>
</g>

<g id="B-clades">
<g id="B-bacillaceae"><path class="br" d="M1419,33 V475 H1408"/><text class="ci" x="1434" y="262">Family Bacillaceae</text></g>
<g id="B-edaphobacillus"><path class="br" d="M1451,475 H1463 V495 H1451"/><text class="ci" x="1471" y="492">"Edaphobacillus"</text></g>
<g id="B-bhargavaea"><path class="br" d="M1402,495 H1414 V557 H1402"/><text class="ci" x="1422" y="534">Bhargavaea</text></g>
<g id="B-sporosarcina"><path class="br" d="M1517,557 H1530 V744 H1517"/><text class="cb" x="1538" y="659">Sporosarcina Clade</text></g>
<g id="B-paenisporosarcina"><path class="br" d="M1408,744 H1420 V783 H1408"/><text class="ci" x="1429" y="773">Paenisporosarcina</text></g>
<g id="B-tetzosporium"><path class="br" d="M1402,786 H1413 V805 H1402"/><text class="ci" x="1424" y="801">"Tetzosporium"</text></g>
<g id="B-chryseomicrobium"><path class="br" d="M1442,807 H1459 V828 H1442"/><text class="ci" x="1470" y="827">Chryseomicrobium</text></g>
<g id="B-psychrobacillus"><path class="br" d="M1442,828 H1453 V911 H1442"/><text class="ci" x="1462" y="877">Psychrobacillus</text></g>
<g id="B-viridibacillus"><path class="br" d="M1333,911 H1345 V952 H1333"/><text class="ci" x="1355" y="939">Viridibacillus</text></g>
<g id="B-rummeliibacillus"><path class="br" d="M1416,953 H1429 V993 H1416"/><text class="ci" x="1438" y="981">Rummeliibacillus</text></g>
<g id="B-kurthia"><path class="br" d="M1384,994 H1392 V1118 H1384"/><text class="ci" x="1400" y="1064">Kurthia</text></g>
<g id="B-ureibacillus"><path class="br" d="M1460,1118 H1473 V1368 H1460"/><text class="cb" x="1481" y="1251">Ureibacillus Clade</text></g>
<g id="B-meyeri"><path class="br" d="M1494,1368 H1508 V1430 H1494"/><text class="cb" x="1518" y="1407">Meyeri Clade</text></g>
<g id="B-solibacillus"><path class="br" d="M1388,1432 H1400 V1577 H1388"/><text class="cb" x="1408" y="1512">Solibacillus Clade</text></g>
<g id="B-lysinibacillus"><path class="br" d="M1455,1577 H1469 V1825 H1455"/><text class="cbi" x="1478" y="1709">Lysinibacillus sensu stricto</text></g>
<g id="B-jejuensis"><path class="br" d="M1471,1826 H1485 V1888 H1471"/><text class="cb" x="1493" y="1865">Jejuensis Clade</text></g>
<g id="B-caryophanon"><path class="br" d="M1352,1889 H1364 V1930 H1352"/><text class="cbi" x="1373" y="1917">Caryophanon</text></g>
<g id="B-flavidum"><path class="br" d="M1370,1930 H1383 V1972 H1370"/><text class="cb" x="1392" y="1959">Flavidum Clade</text></g>
<g id="B-planococcus"><path class="br" d="M1437,1972 H1450 V2367 H1437"/><text class="cb" x="1458" y="2177">Planococcus/Planomicrobium Clade</text></g>
</g>
</svg>
